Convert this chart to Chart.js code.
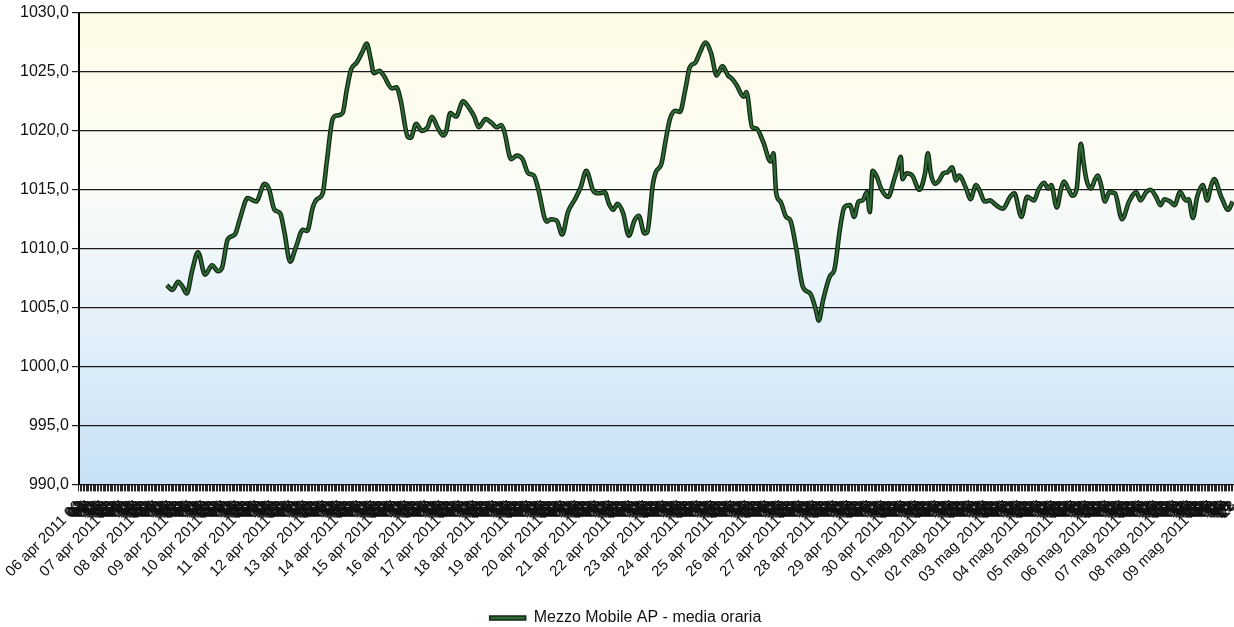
<!DOCTYPE html>
<html lang="it">
<head>
<meta charset="UTF-8">
<title>Mezzo Mobile AP - media oraria</title>
<script src="https://cdn.jsdelivr.net/npm/chart.js@4"></script>
<style>
  body { margin: 0; background: #fff; overflow: hidden; }
  #wrap { width: 1234px; height: 627px; position: relative; }
</style>
</head>
<body>
<div id="wrap"><canvas id="pressureChart"></canvas></div>
<script>
// one category per hour, 24 per day
const days = [
  '06 apr 2011', '07 apr 2011', '08 apr 2011', '09 apr 2011', '10 apr 2011', '11 apr 2011',
  '12 apr 2011', '13 apr 2011', '14 apr 2011', '15 apr 2011', '16 apr 2011', '17 apr 2011',
  '18 apr 2011', '19 apr 2011', '20 apr 2011', '21 apr 2011', '22 apr 2011', '23 apr 2011',
  '24 apr 2011', '25 apr 2011', '26 apr 2011', '27 apr 2011', '28 apr 2011', '29 apr 2011',
  '30 apr 2011', '01 mag 2011', '02 mag 2011', '03 mag 2011', '04 mag 2011', '05 mag 2011',
  '06 mag 2011', '07 mag 2011', '08 mag 2011', '09 mag 2011'
];
const hoursPerDay = 24;

// readings: hour counted from 06 apr 00, and hourly mean pressure (hPa)
const sampleHour = [
  62, 66, 70, 73, 76, 80, 84, 89, 94, 98, 101, 105, 110, 114, 119, 125, 131, 134, 138, 142,
  145, 149, 153, 158, 161, 165, 168, 172, 175, 179, 182, 186, 189, 192, 196, 200, 203, 206, 208, 212,
  215, 221, 224, 227, 232, 234, 238, 242, 246, 249, 253, 257, 259, 262, 266, 271, 275, 279, 282, 287,
  291, 295, 298, 300, 305, 309, 313, 317, 321, 324, 330, 333, 337, 341, 345, 350, 354, 358, 363, 367,
  371, 374, 377, 380, 384, 388, 392, 395, 399, 401, 405, 407, 411, 414, 417, 421, 424, 428, 431, 435,
  438, 442, 446, 450, 454, 458, 461, 464, 469, 471, 475, 478, 483, 488, 490, 492, 495, 499, 502, 506,
  511, 516, 520, 522, 525, 530, 533, 537, 540, 544, 547, 550, 553, 556, 558, 560, 563, 566, 571, 575,
  577, 580, 581, 584, 588, 593, 597, 599, 601, 604, 607, 610, 613, 616, 619, 621, 626, 629, 633, 636,
  639, 643, 646, 652, 657, 660, 665, 669, 674, 677, 681, 684, 686, 690, 693, 695, 698, 701, 704, 707,
  709, 711, 714, 717, 719, 721, 724, 727, 731, 736, 741, 746, 749, 753, 756, 760, 763, 766, 770, 773,
  777, 781, 783, 786, 789, 793, 796, 799, 801, 806, 811, 814
];
const pressure = [
  1006.9, 1006.5, 1007.2, 1006.8, 1006.2, 1008.2, 1009.7, 1007.8, 1008.6, 1008.1, 1008.4, 1010.8, 1011.2, 1012.7, 1014.3, 1014.0, 1015.5, 1015.1, 1013.3, 1013.0,
  1011.4, 1008.9, 1010.1, 1011.6, 1011.5, 1013.5, 1014.2, 1014.7, 1017.5, 1021.0, 1021.3, 1021.5, 1023.5, 1025.2, 1025.8, 1026.7, 1027.4, 1026.0, 1024.9, 1025.1,
  1024.7, 1023.6, 1023.7, 1022.6, 1019.5, 1019.4, 1020.6, 1020.0, 1020.3, 1021.2, 1020.3, 1019.6, 1019.9, 1021.5, 1021.2, 1022.5, 1022.0, 1021.2, 1020.3, 1021.0,
  1020.7, 1020.3, 1020.5, 1020.0, 1017.6, 1017.9, 1017.6, 1016.4, 1016.2, 1015.1, 1012.3, 1012.5, 1012.4, 1011.2, 1013.1, 1014.2, 1015.2, 1016.6, 1014.9, 1014.7,
  1014.8, 1013.8, 1013.3, 1013.8, 1013.0, 1011.1, 1012.4, 1012.8, 1011.3, 1011.4, 1015.5, 1016.5, 1017.2, 1019.2, 1021.0, 1021.7, 1021.6, 1023.6, 1025.4, 1025.8,
  1026.6, 1027.5, 1026.6, 1024.7, 1025.5, 1024.7, 1024.4, 1023.9, 1022.9, 1023.3, 1020.3, 1020.2, 1019.0, 1017.4, 1018.1, 1014.7, 1014.0, 1012.7, 1012.4, 1010.1,
  1006.7, 1006.2, 1004.8, 1003.9, 1005.6, 1007.7, 1008.2, 1011.7, 1013.5, 1013.7, 1012.7, 1014.0, 1014.1, 1014.8, 1013.1, 1016.6, 1016.1, 1015.1, 1014.4, 1015.8,
  1016.6, 1017.8, 1015.9, 1016.4, 1016.2, 1015.0, 1016.4, 1018.1, 1016.4, 1015.5, 1015.8, 1016.4, 1016.5, 1016.9, 1015.8, 1016.2, 1015.1, 1014.2, 1015.4, 1014.8,
  1014.0, 1014.1, 1013.8, 1013.4, 1014.4, 1014.7, 1012.7, 1014.4, 1014.1, 1015.0, 1015.6, 1015.1, 1015.4, 1013.5, 1015.1, 1015.7, 1015.1, 1014.5, 1015.1, 1018.9,
  1017.2, 1015.8, 1015.1, 1015.9, 1016.2, 1015.5, 1014.0, 1014.8, 1014.7, 1012.5, 1014.0, 1014.8, 1014.1, 1014.8, 1015.0, 1014.4, 1013.7, 1014.2, 1014.0, 1013.7,
  1014.8, 1014.1, 1014.2, 1012.6, 1014.4, 1015.4, 1014.1, 1015.4, 1015.9, 1014.4, 1013.3, 1014.0
];

const yMin = 990, yMax = 1030, yStep = 5;

// hourly categories, e.g. "06 apr 2011 00"
const labels = [];
days.forEach(d => {
  for (let h = 0; h < hoursPerDay; h++) labels.push(d + ' ' + String(h).padStart(2, '0'));
});
const series = new Array(labels.length).fill(null);
sampleHour.forEach((h, i) => { series[h] = pressure[i]; });

// soft yellow-to-blue fill behind the plot
const plotBackground = {
  id: 'plotBackground',
  beforeDraw(chart) {
    const { ctx, chartArea: a } = chart;
    const g = ctx.createLinearGradient(0, a.top, 0, a.bottom);
    g.addColorStop(0, '#fefbe6');
    g.addColorStop(0.35, '#fbfcf5');
    g.addColorStop(0.55, '#edf5fb');
    g.addColorStop(1, '#c6e0f5');
    ctx.save();
    ctx.fillStyle = g;
    ctx.fillRect(a.left, a.top, a.right - a.left, a.bottom - a.top);
    ctx.restore();
  }
};

const font = { family: "'Liberation Sans', Arial, sans-serif" };

const ctx = document.getElementById('pressureChart').getContext('2d');
new Chart(ctx, {
  type: 'line',
  data: {
    labels: labels,
    datasets: [{
      label: 'Mezzo Mobile AP - media oraria',
      data: series,
      borderColor: '#2e6a34',
      backgroundColor: '#2e6a34',
      borderWidth: 2.2,
      pointRadius: 0,
      spanGaps: true,
      cubicInterpolationMode: 'monotone',
      order: 0
    }, {
      // dark edge under the green line
      label: 'bordo',
      data: series,
      borderColor: '#122814',
      borderWidth: 4.6,
      pointRadius: 0,
      spanGaps: true,
      cubicInterpolationMode: 'monotone',
      order: 1
    }]
  },
  options: {
    responsive: true,
    maintainAspectRatio: false,
    animation: false,
    layout: { padding: { left: 17, top: 13, right: 0, bottom: -9 } },
    plugins: {
      tooltip: { enabled: false },
      legend: {
        position: 'bottom',
        labels: {
          color: '#111',
          font: { ...font, size: 16 },
          boxWidth: 36,
          boxHeight: 4,
          padding: 0,
          filter: item => item.datasetIndex === 0,
          generateLabels(chart) {
            return Chart.defaults.plugins.legend.labels.generateLabels(chart).map(l =>
              Object.assign(l, { lineWidth: 1.5, strokeStyle: '#122814', fillStyle: '#2e6a34' }));
          }
        }
      }
    },
    scales: {
      x: {
        grid: { drawOnChartArea: false, tickLength: 7, color: '#262626' },
        border: { color: '#111', width: 1 },
        ticks: {
          autoSkip: false,
          minRotation: 45,
          maxRotation: 45,
          padding: 6,
          color: '#111',
          font: { ...font, size: 15 },
          callback(value, index) {
            const lab = labels[index];
            return index % hoursPerDay === 0 ? lab : lab.slice(-2);
          }
        },
        // keep the plot running to the right edge, leave room above the legend
        afterFit(scale) {
          scale.paddingRight = 0;
          scale.height += 18;
        }
      },
      y: {
        min: yMin,
        max: yMax,
        grid: { color: '#1a1a1a', lineWidth: 1.2, tickLength: 7 },
        border: { color: '#000', width: 2 },
        ticks: {
          stepSize: yStep,
          padding: 3,
          color: '#111',
          font: { ...font, size: 16 },
          callback: v => v.toFixed(1).replace('.', ',')
        }
      }
    }
  },
  plugins: [plotBackground]
});
</script>
</body>
</html>
